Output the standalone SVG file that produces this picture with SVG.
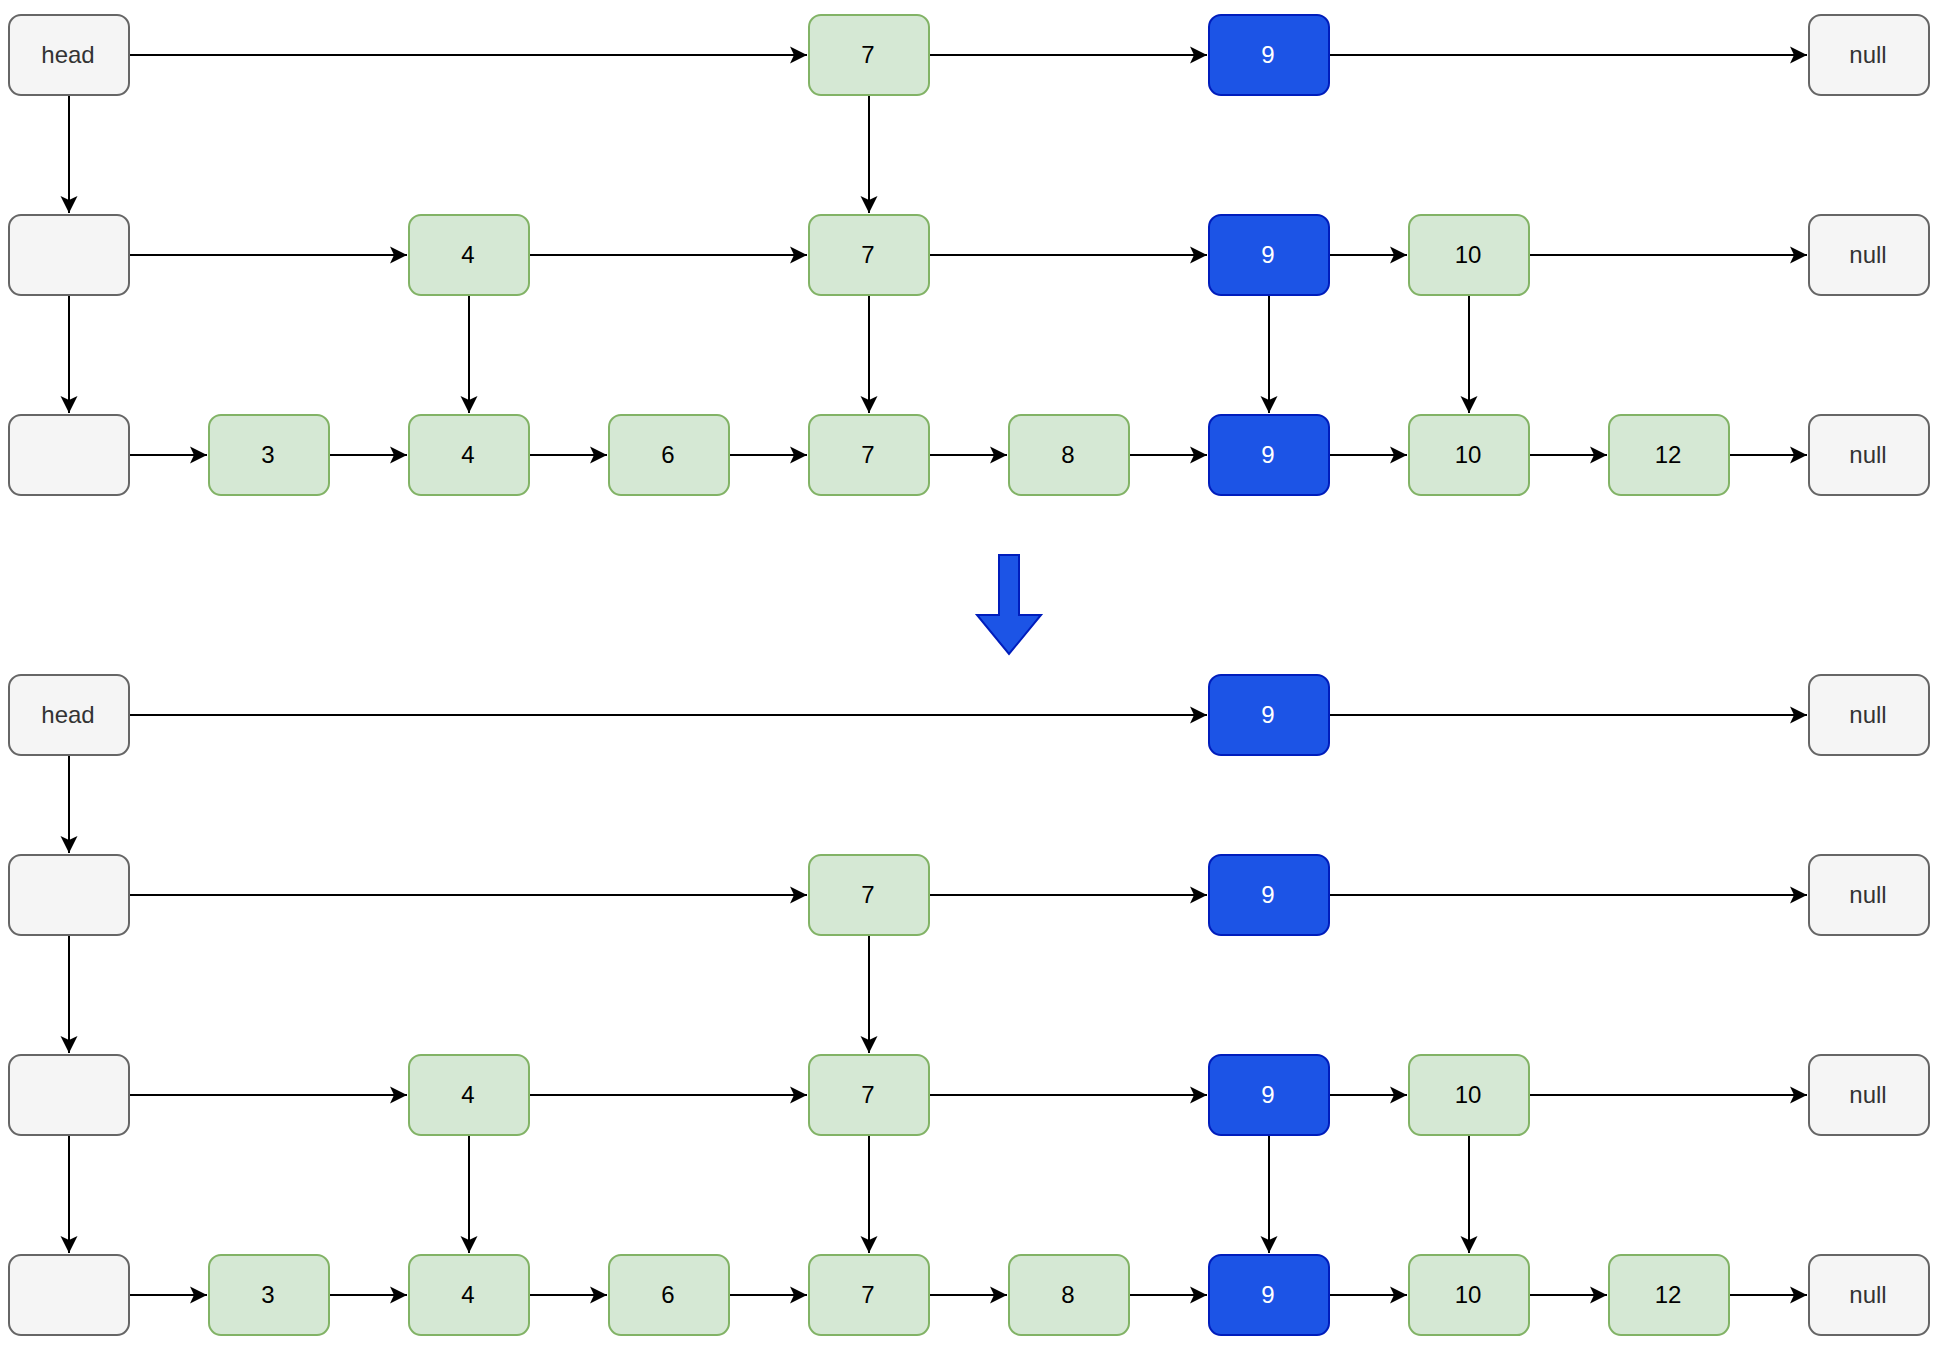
<svg xmlns="http://www.w3.org/2000/svg" width="1942" height="1348" viewBox="0 0 1942 1348">
<style>
.g rect{fill:#f5f5f5;stroke:#666666;stroke-width:2}
.g text{fill:#333333}
.n rect{fill:#d5e8d4;stroke:#82b366;stroke-width:2}
.n text{fill:#000000}
.b rect{fill:#1c54e6;stroke:#001dbc;stroke-width:2}
.b text{fill:#ffffff}
text{font-family:"Liberation Sans",Arial,sans-serif;font-size:24px;text-anchor:middle;dominant-baseline:central;transform:translate(-1px,-1px)}
#edges path{fill:none;stroke:#000000;stroke-width:2;marker-end:url(#arr)}
</style>
<defs>
<marker id="arr" markerUnits="userSpaceOnUse" markerWidth="20" markerHeight="20" viewBox="-18 -10 20 20" refX="0" refY="0" orient="auto">
<path d="M0,0 L-17,-8.5 L-13,0 L-17,8.5 Z" fill="#000000"/>
</marker>
</defs>
<rect width="1942" height="1348" fill="#ffffff"/>
<g id="edges">
<path d="M129,55 H807"/>
<path d="M929,55 H1207"/>
<path d="M1329,55 H1807"/>
<path d="M69,95 V213"/>
<path d="M869,95 V213"/>
<path d="M129,255 H407"/>
<path d="M529,255 H807"/>
<path d="M929,255 H1207"/>
<path d="M1329,255 H1407"/>
<path d="M1529,255 H1807"/>
<path d="M69,295 V413"/>
<path d="M469,295 V413"/>
<path d="M869,295 V413"/>
<path d="M1269,295 V413"/>
<path d="M1469,295 V413"/>
<path d="M129,455 H207"/>
<path d="M329,455 H407"/>
<path d="M529,455 H607"/>
<path d="M729,455 H807"/>
<path d="M929,455 H1007"/>
<path d="M1129,455 H1207"/>
<path d="M1329,455 H1407"/>
<path d="M1529,455 H1607"/>
<path d="M1729,455 H1807"/>
<path d="M129,715 H1207"/>
<path d="M1329,715 H1807"/>
<path d="M69,755 V853"/>
<path d="M129,895 H807"/>
<path d="M929,895 H1207"/>
<path d="M1329,895 H1807"/>
<path d="M69,935 V1053"/>
<path d="M869,935 V1053"/>
<path d="M129,1095 H407"/>
<path d="M529,1095 H807"/>
<path d="M929,1095 H1207"/>
<path d="M1329,1095 H1407"/>
<path d="M1529,1095 H1807"/>
<path d="M69,1135 V1253"/>
<path d="M469,1135 V1253"/>
<path d="M869,1135 V1253"/>
<path d="M1269,1135 V1253"/>
<path d="M1469,1135 V1253"/>
<path d="M129,1295 H207"/>
<path d="M329,1295 H407"/>
<path d="M529,1295 H607"/>
<path d="M729,1295 H807"/>
<path d="M929,1295 H1007"/>
<path d="M1129,1295 H1207"/>
<path d="M1329,1295 H1407"/>
<path d="M1529,1295 H1607"/>
<path d="M1729,1295 H1807"/>
</g>
<g id="t1-head" class="g"><rect x="9" y="15" width="120" height="80" rx="12"/><text x="69" y="55">head</text></g>
<g id="t1-7" class="n"><rect x="809" y="15" width="120" height="80" rx="12"/><text x="869" y="55">7</text></g>
<g id="t1-9" class="b"><rect x="1209" y="15" width="120" height="80" rx="12"/><text x="1269" y="55">9</text></g>
<g id="t1-null" class="g"><rect x="1809" y="15" width="120" height="80" rx="12"/><text x="1869" y="55">null</text></g>

<g id="t2-h" class="g"><rect x="9" y="215" width="120" height="80" rx="12"/></g>
<g id="t2-4" class="n"><rect x="409" y="215" width="120" height="80" rx="12"/><text x="469" y="255">4</text></g>
<g id="t2-7" class="n"><rect x="809" y="215" width="120" height="80" rx="12"/><text x="869" y="255">7</text></g>
<g id="t2-9" class="b"><rect x="1209" y="215" width="120" height="80" rx="12"/><text x="1269" y="255">9</text></g>
<g id="t2-10" class="n"><rect x="1409" y="215" width="120" height="80" rx="12"/><text x="1469" y="255">10</text></g>
<g id="t2-null" class="g"><rect x="1809" y="215" width="120" height="80" rx="12"/><text x="1869" y="255">null</text></g>

<g id="t3-h" class="g"><rect x="9" y="415" width="120" height="80" rx="12"/></g>
<g id="t3-3" class="n"><rect x="209" y="415" width="120" height="80" rx="12"/><text x="269" y="455">3</text></g>
<g id="t3-4" class="n"><rect x="409" y="415" width="120" height="80" rx="12"/><text x="469" y="455">4</text></g>
<g id="t3-6" class="n"><rect x="609" y="415" width="120" height="80" rx="12"/><text x="669" y="455">6</text></g>
<g id="t3-7" class="n"><rect x="809" y="415" width="120" height="80" rx="12"/><text x="869" y="455">7</text></g>
<g id="t3-8" class="n"><rect x="1009" y="415" width="120" height="80" rx="12"/><text x="1069" y="455">8</text></g>
<g id="t3-9" class="b"><rect x="1209" y="415" width="120" height="80" rx="12"/><text x="1269" y="455">9</text></g>
<g id="t3-10" class="n"><rect x="1409" y="415" width="120" height="80" rx="12"/><text x="1469" y="455">10</text></g>
<g id="t3-12" class="n"><rect x="1609" y="415" width="120" height="80" rx="12"/><text x="1669" y="455">12</text></g>
<g id="t3-null" class="g"><rect x="1809" y="415" width="120" height="80" rx="12"/><text x="1869" y="455">null</text></g>

<g id="big-arrow"><polygon points="999,555 1019,555 1019,615 1041,615 1009,654 977,615 999,615" fill="#1c54e6" stroke="#001dbc" stroke-width="2"/></g>

<g id="lA-head" class="g"><rect x="9" y="675" width="120" height="80" rx="12"/><text x="69" y="715">head</text></g>
<g id="lA-9" class="b"><rect x="1209" y="675" width="120" height="80" rx="12"/><text x="1269" y="715">9</text></g>
<g id="lA-null" class="g"><rect x="1809" y="675" width="120" height="80" rx="12"/><text x="1869" y="715">null</text></g>

<g id="lB-h" class="g"><rect x="9" y="855" width="120" height="80" rx="12"/></g>
<g id="lB-7" class="n"><rect x="809" y="855" width="120" height="80" rx="12"/><text x="869" y="895">7</text></g>
<g id="lB-9" class="b"><rect x="1209" y="855" width="120" height="80" rx="12"/><text x="1269" y="895">9</text></g>
<g id="lB-null" class="g"><rect x="1809" y="855" width="120" height="80" rx="12"/><text x="1869" y="895">null</text></g>

<g id="lC-h" class="g"><rect x="9" y="1055" width="120" height="80" rx="12"/></g>
<g id="lC-4" class="n"><rect x="409" y="1055" width="120" height="80" rx="12"/><text x="469" y="1095">4</text></g>
<g id="lC-7" class="n"><rect x="809" y="1055" width="120" height="80" rx="12"/><text x="869" y="1095">7</text></g>
<g id="lC-9" class="b"><rect x="1209" y="1055" width="120" height="80" rx="12"/><text x="1269" y="1095">9</text></g>
<g id="lC-10" class="n"><rect x="1409" y="1055" width="120" height="80" rx="12"/><text x="1469" y="1095">10</text></g>
<g id="lC-null" class="g"><rect x="1809" y="1055" width="120" height="80" rx="12"/><text x="1869" y="1095">null</text></g>

<g id="lD-h" class="g"><rect x="9" y="1255" width="120" height="80" rx="12"/></g>
<g id="lD-3" class="n"><rect x="209" y="1255" width="120" height="80" rx="12"/><text x="269" y="1295">3</text></g>
<g id="lD-4" class="n"><rect x="409" y="1255" width="120" height="80" rx="12"/><text x="469" y="1295">4</text></g>
<g id="lD-6" class="n"><rect x="609" y="1255" width="120" height="80" rx="12"/><text x="669" y="1295">6</text></g>
<g id="lD-7" class="n"><rect x="809" y="1255" width="120" height="80" rx="12"/><text x="869" y="1295">7</text></g>
<g id="lD-8" class="n"><rect x="1009" y="1255" width="120" height="80" rx="12"/><text x="1069" y="1295">8</text></g>
<g id="lD-9" class="b"><rect x="1209" y="1255" width="120" height="80" rx="12"/><text x="1269" y="1295">9</text></g>
<g id="lD-10" class="n"><rect x="1409" y="1255" width="120" height="80" rx="12"/><text x="1469" y="1295">10</text></g>
<g id="lD-12" class="n"><rect x="1609" y="1255" width="120" height="80" rx="12"/><text x="1669" y="1295">12</text></g>
<g id="lD-null" class="g"><rect x="1809" y="1255" width="120" height="80" rx="12"/><text x="1869" y="1295">null</text></g>
</svg>
